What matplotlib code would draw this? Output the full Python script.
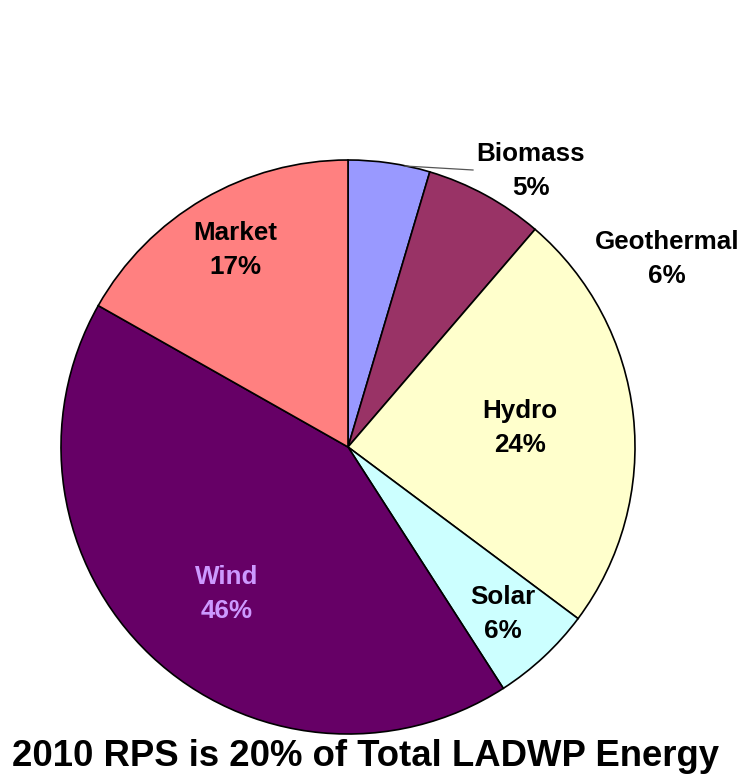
import matplotlib
matplotlib.use("Agg")
import matplotlib.pyplot as plt

# Data
categories = ["Biomass", "Geothermal", "Hydro", "Solar", "Wind", "Market"]
shares = [4.6, 6.7, 23.9, 5.7, 42.3, 16.8]
pct_labels = ["5%", "6%", "24%", "6%", "46%", "17%"]
colors = ["#9999FF", "#993366", "#FFFFCC", "#CCFFFF", "#660066", "#FF8080"]
label_colors = ["black", "black", "black", "black", "#CC99FF", "black"]
title = "2010 RPS is 20% of Total LADWP Energy"

W, H = 742, 775
fig = plt.figure(figsize=(W / 100, H / 100), dpi=100)
cx, cy, r = 348, 447, 287
ax = fig.add_axes([(cx - r) / W, (H - cy - r) / H, 2 * r / W, 2 * r / H])
ax.pie(shares, colors=colors, startangle=90, counterclock=False, radius=1,
       wedgeprops=dict(edgecolor="black", linewidth=1.2))
ax.set_xlim(-1, 1)
ax.set_ylim(-1, 1)
ax.set_aspect("equal")
ax.axis("off")

# label centers in pixel coordinates (layout)
label_pos = [(531, 171), (667, 259), (520, 428), (503, 614), (227, 594), (235, 250)]

def to_data(px, py):
    return (px - cx) / r, (cy - py) / r

for cat, pct, (px, py), lc in zip(categories, pct_labels, label_pos, label_colors):
    x, y = to_data(px, py)
    ax.text(x, y, f"{cat}\n{pct}", ha="center", va="center", fontsize=18.7,
            fontweight="bold", family=["Liberation Sans", "DejaVu Sans"],
            color=lc, linespacing=1.5, clip_on=False)

# leader line for Biomass
x0, y0 = to_data(405, 166)
x1, y1 = to_data(473, 170)
ax.plot([x0, x1], [y0, y1], color="#555555", linewidth=0.9, clip_on=False)

fig.text(366 / W, 1 - 756 / H, title, ha="center", va="center", fontsize=26.3,
         fontweight="bold", family=["Liberation Sans", "DejaVu Sans"])

fig.savefig("out.png", dpi=100, facecolor="white")
